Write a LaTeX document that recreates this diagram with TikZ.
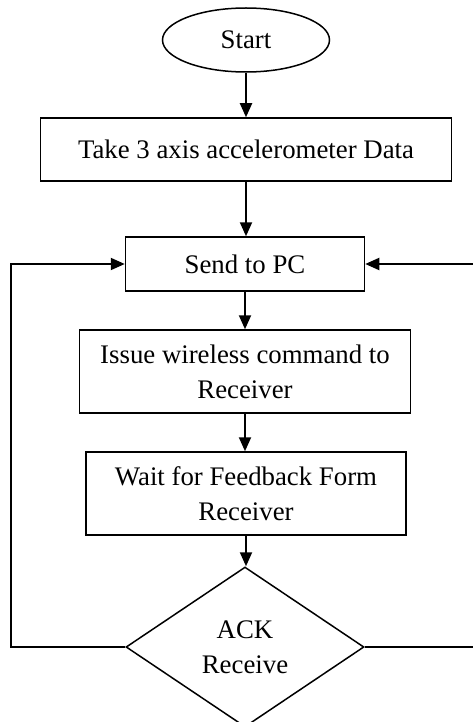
\documentclass[tikz,border=0pt]{standalone}
\usepackage{fontspec}
\setmainfont{Liberation Serif}
\usetikzlibrary{shapes.geometric, arrows.meta}

\newcommand\flowfont{\fontsize{26.8}{35}\selectfont}

\begin{document}
\begin{tikzpicture}[x = 1pt, y = -1pt,
    every node/.style = {draw, line width = 1.5pt, align = center, inner sep = 0pt, font = \flowfont},
    box/.style = {shape = rectangle},
    flow/.style = {line width = 2pt, -{Triangle[length = 14pt, width = 12pt]}}]
    \useasboundingbox (0, 0) rectangle (473, 722);
    \clip (0, 0) rectangle (473, 722);

    \node[shape = ellipse, minimum width = 167pt, minimum height = 64pt] (start) at (246, 40) {Start};
    \node[box, minimum width = 411pt, minimum height = 63pt] (take) at (246, 149.5) {Take 3 axis accelerometer Data};
    \node[box, minimum width = 239pt, minimum height = 54pt] (send) at (245, 264) {Send to PC};
    \node[box, minimum width = 331pt, minimum height = 83pt] (issue) at (245, 371.5) {Issue wireless command to\\Receiver};
    \node[box, minimum width = 320pt, minimum height = 83pt] (wait) at (246, 493.5) {Wait for Feedback Form\\Receiver};
    \node[shape = diamond, minimum width = 238pt, minimum height = 160pt] (ack) at (245, 647) {ACK\\Receive};

    % main flow
    \draw[flow] (start) -- (start |- take.north);
    \draw[flow] (take) -- (take |- send.north);
    \draw[flow] (send) -- (send |- issue.north);
    \draw[flow] (issue) -- (issue |- wait.north);
    \draw[flow] (wait) -- (wait |- ack.north);

    % loops back to send
    \coordinate (leftrail) at (11, 0);
    \coordinate (rightrail) at (476, 0);
    \draw[flow] (ack.west) -- (leftrail |- ack.west) -- (leftrail |- send.west) -- (send.west);
    \draw[flow] (ack.east) -- (rightrail |- ack.east) -- (rightrail |- send.east) -- (send.east);
\end{tikzpicture}
\end{document}
